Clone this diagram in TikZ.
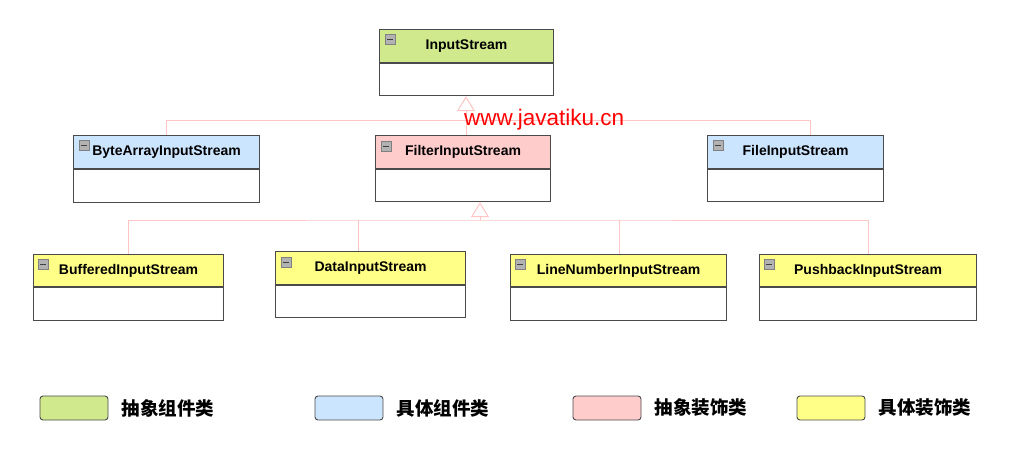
\documentclass[tikz,border=0pt]{standalone}
\usepackage{fontspec}
\setmainfont{Liberation Sans}
\newfontfamily\cjk{Noto Sans CJK SC}
\usetikzlibrary{arrows.meta}
\definecolor{cgreen}{HTML}{D0E98C}
\definecolor{cblue}{HTML}{CCE5FF}
\definecolor{cpink}{HTML}{FFCCCC}
\definecolor{cyellow}{HTML}{FFFF88}
\definecolor{cedge}{HTML}{4A4A4A}
\definecolor{cline}{HTML}{FFC4C4}
\tikzset{
  hdr/.style={draw=cedge, line width=1.1pt, inner sep=0pt, anchor=north west,
    font=\fontsize{14}{16}\selectfont\bfseries},
  bodybox/.style={draw=cedge, line width=1.1pt, inner sep=0pt, fill=white, anchor=north},
  iconbox/.style={draw=gray, fill=black!30, line width=0.6pt, minimum size=10pt, inner sep=0pt, anchor=north west,
    path picture={\draw[black!75, line width=1.4pt] ([xshift=2pt]path picture bounding box.west) -- ([xshift=-2pt]path picture bounding box.east);}},
  conn/.style={draw=cline, line width=1pt},
  gen/.style={conn, -{Triangle[open, length=15pt, width=18pt]}},
  legbox/.style={draw=cedge, line width=0.9pt, rounded corners=3pt, minimum width=68pt, minimum height=24pt, inner sep=0pt},
  legtext/.style={anchor=west, font=\cjk\bfseries\fontsize{18.5}{20}\selectfont},
}
\begin{document}
\begin{tikzpicture}[x=1pt,y=-1pt]
\useasboundingbox (0,0) rectangle (1015,455);
% level 0
\node[hdr, fill=cgreen, minimum width=174pt, minimum height=33pt] (is) at (379,29) {InputStream};
\node[bodybox, minimum width=174pt, minimum height=32pt] (isb) at (is.south) {};
\node[iconbox] (isi) at (385,34) {};
% level 1
\node[hdr, fill=cblue, minimum width=186pt, minimum height=33pt] (ba) at (73,135) {ByteArrayInputStream};
\node[bodybox, minimum width=186pt, minimum height=33pt] (bab) at (ba.south) {};
\node[iconbox] (bai) at (79,140) {};
\node[hdr, fill=cpink, minimum width=175pt, minimum height=33pt] (fi) at (375,135) {FilterInputStream};
\node[bodybox, minimum width=175pt, minimum height=32pt] (fib) at (fi.south) {};
\node[iconbox] (fii) at (381,141) {};
\node[hdr, fill=cblue, minimum width=176pt, minimum height=33pt] (fl) at (707,135) {FileInputStream};
\node[bodybox, minimum width=176pt, minimum height=32pt] (flb) at (fl.south) {};
\node[iconbox] (fli) at (713,140) {};
% level 2
\node[hdr, fill=cyellow, minimum width=190pt, minimum height=32pt] (bu) at (33,254) {BufferedInputStream};
\node[bodybox, minimum width=190pt, minimum height=33pt] (bub) at (bu.south) {};
\node[iconbox] (bui) at (38,259) {};
\node[hdr, fill=cyellow, minimum width=190pt, minimum height=33pt] (da) at (275,251) {DataInputStream};
\node[bodybox, minimum width=190pt, minimum height=32pt] (dab) at (da.south) {};
\node[iconbox] (dai) at (281,257) {};
\node[hdr, fill=cyellow, minimum width=216pt, minimum height=32pt] (ln) at (510,254) {LineNumberInputStream};
\node[bodybox, minimum width=216pt, minimum height=33pt] (lnb) at (ln.south) {};
\node[iconbox] (lni) at (515,259) {};
\node[hdr, fill=cyellow, minimum width=217pt, minimum height=32pt] (pb) at (759,254) {PushbackInputStream};
\node[bodybox, minimum width=217pt, minimum height=33pt] (pbb) at (pb.south) {};
\node[iconbox] (pbi) at (764,259) {};
% connectors level 1
\coordinate (j1) at (466,120);
\coordinate (jf) at (810,120);
\draw[conn] (ba.north) |- (jf) -- (jf |- fl.north);
\draw[conn] (j1) -- (j1 |- fi.north);
\draw[gen] (j1) -- (j1 |- isb.south);
% connectors level 2
\coordinate (j2) at (480,220);
\coordinate (jd) at (358,220);
\coordinate (jl) at (619,220);
\draw[conn] (bu.north) |- (j2) -| (pb.north);
\draw[conn] (jd) -- (jd |- da.north);
\draw[conn] (jl) -- (jl |- ln.north);
\draw[gen] (j2) -- (j2 |- fib.south);
% watermark
\node[anchor=west, text=red, font=\fontsize{22.5}{24}\selectfont, inner sep=0pt] (wm) at (464,120) {www.javatiku.cn};
% legend
\node[legbox, fill=cgreen] (l1) at (74,408) {};
\node[legtext] (t1) at (118,408) {抽象组件类};
\node[legbox, fill=cblue] (l2) at (349,408) {};
\node[legtext] (t2) at (393,408) {具体组件类};
\node[legbox, fill=cpink] (l3) at (607,408) {};
\node[legtext] (t3) at (651,408) {抽象装饰类};
\node[legbox, fill=cyellow] (l4) at (831,408) {};
\node[legtext] (t4) at (875,408) {具体装饰类};
\end{tikzpicture}
\end{document}
